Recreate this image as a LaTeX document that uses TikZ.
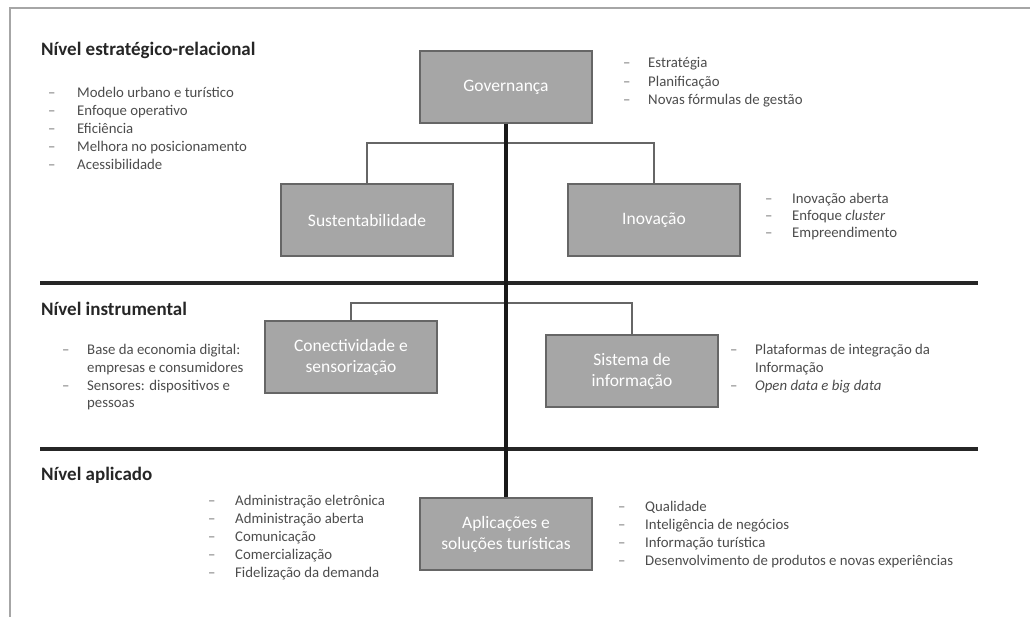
\documentclass[tikz,border=0pt]{standalone}
\usepackage{fontspec}
\setmainfont{Carlito}
\begin{document}
\begin{tikzpicture}[x=1pt,y=-1pt]

	\tikzstyle{mybox}=[draw=black!60,line width=1.2pt,fill=black!35,text=white,minimum width=172pt,minimum height=72pt,align=center,font=\fontsize{17.5}{21}\selectfont]
	\tikzstyle{mytitle}=[anchor=west,inner sep=0pt,text=black!85,font=\fontsize{19}{22}\selectfont\bfseries]
	\tikzstyle{myitem}=[anchor=base west,inner sep=0pt,text=black!70,font=\fontsize{14.8}{18}\selectfont]
	\tikzstyle{mydash}=[myitem,text=black!55]
	\tikzstyle{mylevel}=[line width=3.2pt,black!85]
	\tikzstyle{myspine}=[line width=3.2pt,black!90]
	\tikzstyle{mylink}=[line width=1.2pt,black!60]

	\useasboundingbox (0,0) rectangle (1030,617);
	\draw[black!35,line width=2pt] (10,617) -- (10,8) -- (1030,8);

	% level separators
	\coordinate (lvA-w) at (40,283);
	\coordinate (lvA-e) at (978,283);
	\coordinate (lvB-w) at (40,449);
	\coordinate (lvB-e) at (978,449);
	\draw[mylevel] (lvA-w) -- (lvA-e);
	\draw[mylevel] (lvB-w) -- (lvB-e);

	\node[mytitle] (tEst) at (41,50) {Nível estratégico-relacional};
	\node[mytitle] (tIns) at (41,309) {Nível instrumental};
	\node[mytitle] (tApl) at (41,475) {Nível aplicado};

	% boxes
	\node[mybox] (gov) at (506,87) {Governança};
	\node[mybox] (sus) at (367,220) {Sustentabilidade};
	\node[mybox] (ino) at (654,220) {Inovação};
	\node[mybox] (con) at (351,357) {Conectividade e\\sensorização};
	\node[mybox] (sis) at (632,371) {Sistema de\\informação};
	\node[mybox] (apl) at (506,534) {Aplicações e\\soluções turísticas};

	\coordinate (govsplit) at (506,143);
	\coordinate (inssplit) at (506,303);
	\draw[mylink] (sus.north) |- (govsplit) -| (ino.north);
	\draw[mylink] (con.north) |- (inssplit) -| (sis.north);
	\draw[myspine] (gov.south) -- (apl.north);

	% lists (y = baseline)
	\foreach \t [count=\i] in {Modelo urbano e turístico,Enfoque operativo,Eficiência,Melhora no posicionamento,Acessibilidade}{
		\node[mydash] (estD\i) at (48,{98+18*(\i-1)}) {--};
		\node[myitem] (est\i) at (77,{98+18*(\i-1)}) {\t};}

	\foreach \t [count=\i] in {Estratégia,Planificação,Novas fórmulas de gestão}{
		\node[mydash] (govD\i) at (623,{68+18.5*(\i-1)}) {--};
		\node[myitem] (gov\i) at (648,{68+18.5*(\i-1)}) {\t};}

	\foreach \t [count=\i] in {Inovação aberta,Enfoque \textit{cluster},Empreendimento}{
		\node[mydash] (inoD\i) at (765,{204+17*(\i-1)}) {--};
		\node[myitem] (ino\i) at (792,{204+17*(\i-1)}) {\t};}

	\foreach \y / \t [count=\i] in {355/Base da economia digital:,372/empresas e consumidores,390/Sensores: dispositivos e,407/pessoas}{
		\node[myitem] (con\i) at (87,\y) {\t};}
	\node[mydash] (conD1) at (62,355) {--};
	\node[mydash] (conD2) at (62,390) {--};

	\foreach \y / \t [count=\i] in {354/Plataformas de integração da,372/Informação,390/\textit{Open data e big data}}{
		\node[myitem] (sis\i) at (755,\y) {\t};}
	\node[mydash] (sisD1) at (730,354) {--};
	\node[mydash] (sisD2) at (730,390) {--};

	\foreach \t [count=\i] in {Administração eletrônica,Administração aberta,Comunicação,Comercialização,Fidelização da demanda}{
		\node[mydash] (aplL\i) at (208,{505+18*(\i-1)}) {--};
		\node[myitem] (aplT\i) at (235,{505+18*(\i-1)}) {\t};}

	\foreach \t [count=\i] in {Qualidade,Inteligência de negócios,Informação turística,Desenvolvimento de produtos e novas experiências}{
		\node[mydash] (aplR\i) at (618,{511+18*(\i-1)}) {--};
		\node[myitem] (aplS\i) at (645,{511+18*(\i-1)}) {\t};}
\end{tikzpicture}
\end{document}
